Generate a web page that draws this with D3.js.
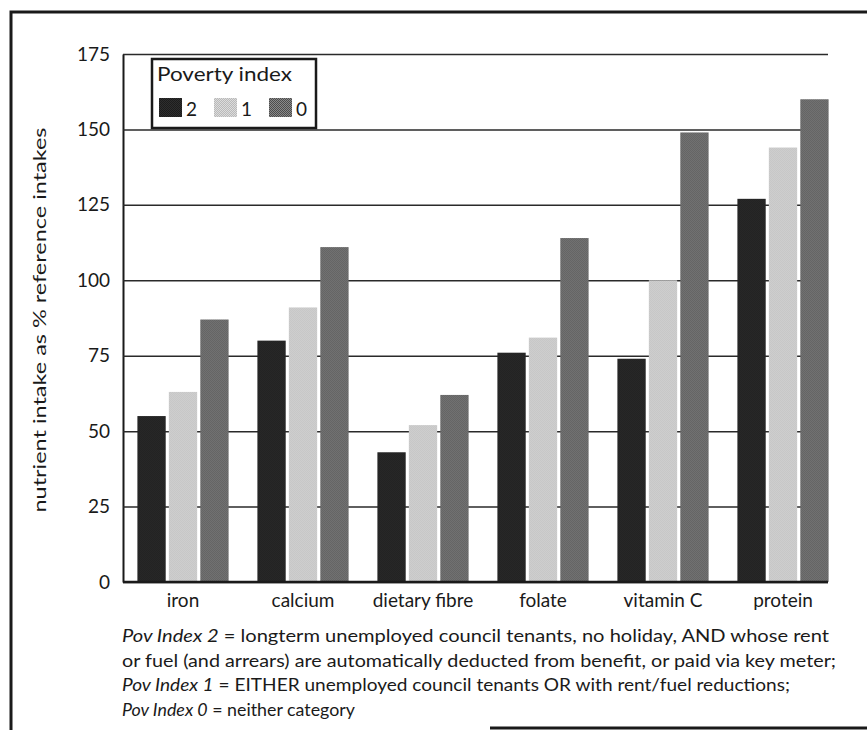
<!DOCTYPE html>
<html>
<head>
<meta charset="utf-8">
<script src="https://cdn.jsdelivr.net/npm/d3@7"></script>
<style>
  html, body { margin: 0; padding: 0; background: #ffffff; }
  svg { display: block; }
  text { font-family: Lato, "Open Sans", "DejaVu Sans", sans-serif; fill: #1a1a1a; }
</style>
</head>
<body>
<svg id="chart" width="867" height="730"></svg>
<script>
// Nutrient intake by poverty index
const categories = ["iron", "calcium", "dietary fibre", "folate", "vitamin C", "protein"];
const seriesKeys = ["2", "1", "0"];
const pov2 = [55, 80, 43, 76, 74, 127];
const pov1 = [63, 91, 52, 81, 100, 144];
const pov0 = [87, 111, 62, 114, 149, 160];
const yTicks = [0, 25, 50, 75, 100, 125, 150, 175];
const yTitle = "nutrient intake as % reference intakes";
const legendTitle = "Poverty index";
const notes = [
  ["Pov Index 2", " = longterm unemployed council tenants, no holiday, AND whose rent"],
  ["", "or fuel (and arrears) are automatically deducted from benefit, or paid via key meter;"],
  ["Pov Index 1", " = EITHER unemployed council tenants OR with rent/fuel reductions;"],
  ["Pov Index 0", " = neither category"]
];

const seriesValues = { "2": pov2, "1": pov1, "0": pov0 };
const rows = categories.map((c, i) => ({
  category: c,
  values: seriesKeys.map(k => ({ key: k, value: seriesValues[k][i] }))
}));

const svg = d3.select("#chart");

// halftone-style fills for the three series
const defs = svg.append("defs");
const fills = {
  "2": ["#1c1c1c", "#2e2e2e"],
  "1": ["#b9b9b9", "#dcdcdc"],
  "0": ["#4c4c4c", "#8a8a8a"]
};
seriesKeys.forEach(k => {
  const p = defs.append("pattern")
    .attr("id", "fill" + k)
    .attr("width", 2).attr("height", 2)
    .attr("patternUnits", "userSpaceOnUse");
  p.append("rect").attr("width", 2).attr("height", 2).attr("fill", fills[k][0]);
  p.append("rect").attr("width", 1).attr("height", 1).attr("fill", fills[k][1]);
  p.append("rect").attr("x", 1).attr("y", 1).attr("width", 1).attr("height", 1).attr("fill", fills[k][1]);
});

// outer frame: top and left rules, with the lower rule on the right-hand part
svg.append("path")
  .attr("d", "M880,12 H11 V740 M490,728 H880")
  .attr("fill", "none")
  .attr("stroke", "#1a1a1a")
  .attr("stroke-width", 3);

const plotLeft = 123, plotRight = 828;

const x = d3.scaleBand()
  .domain(categories)
  .range([plotLeft, plotLeft + 720])
  .paddingInner(0.24)
  .paddingOuter(0.12);

const xInner = d3.scaleBand()
  .domain(seriesKeys)
  .range([0, x.bandwidth()])
  .paddingInner(0.1);

const y = d3.scaleLinear()
  .domain([0, 175])
  .range([582, 54]);

// y axis with full-width gridlines
const yAxis = svg.append("g")
  .attr("transform", `translate(${plotLeft},0)`)
  .call(d3.axisLeft(y)
    .tickValues(yTicks)
    .tickSizeInner(-(plotRight - plotLeft))
    .tickSizeOuter(0)
    .tickPadding(13));
yAxis.select(".domain").attr("stroke", "#1a1a1a").attr("stroke-width", 2);
yAxis.selectAll(".tick line").attr("stroke", "#2a2a2a").attr("stroke-width", 1.5);
yAxis.selectAll(".tick text")
  .attr("font-size", 19)
  .attr("font-family", "Lato, sans-serif")
  .attr("fill", "#1a1a1a");

// bars
const groups = svg.append("g").selectAll("g")
  .data(rows)
  .join("g")
  .attr("transform", d => `translate(${x(d.category)},0)`);

groups.selectAll("rect")
  .data(d => d.values)
  .join("rect")
  .attr("x", d => xInner(d.key))
  .attr("width", xInner.bandwidth())
  .attr("y", d => y(d.value))
  .attr("height", d => y(0) - y(d.value))
  .attr("fill", d => `url(#fill${d.key})`);

// x axis baseline and category labels
const xAxis = svg.append("g")
  .attr("transform", `translate(0,${y(0)})`)
  .call(d3.axisBottom(x).tickSize(0).tickPadding(12));
xAxis.select(".domain").remove();
xAxis.selectAll(".tick text")
  .attr("font-size", 19)
  .attr("font-family", "Lato, sans-serif")
  .attr("fill", "#1a1a1a");
svg.append("line")
  .attr("x1", plotLeft).attr("x2", plotRight)
  .attr("y1", y(0)).attr("y2", y(0))
  .attr("stroke", "#1a1a1a")
  .attr("stroke-width", 2.5);

// y axis title
svg.append("text")
  .attr("transform", `translate(46,${(y(0) + y(175)) / 2 + 2}) rotate(-90)`)
  .attr("text-anchor", "middle")
  .attr("font-size", 18)
  .attr("textLength", 385)
  .attr("lengthAdjust", "spacingAndGlyphs")
  .text(yTitle);

// legend
const legend = svg.append("g");
legend.append("rect")
  .attr("x", 152).attr("y", 59)
  .attr("width", 164).attr("height", 69)
  .attr("fill", "#ffffff")
  .attr("stroke", "#1a1a1a")
  .attr("stroke-width", 2.5);
legend.append("text")
  .attr("x", 157).attr("y", 81)
  .attr("font-size", 19)
  .attr("textLength", 135)
  .attr("lengthAdjust", "spacingAndGlyphs")
  .text(legendTitle);
const legendX = d3.scalePoint().domain(seriesKeys).range([159, 269]);
const items = legend.selectAll("g.item")
  .data(seriesKeys)
  .join("g")
  .attr("class", "item")
  .attr("transform", k => `translate(${legendX(k)},98)`);
items.append("rect")
  .attr("width", 23).attr("height", 19)
  .attr("fill", k => `url(#fill${k})`);
items.append("text")
  .attr("x", 27).attr("y", 18)
  .attr("font-size", 19)
  .text(k => k);

// footnotes
const noteText = svg.append("g");
const noteWidths = [707, 714, 668, 233];
notes.forEach((n, i) => {
  const t = noteText.append("text")
    .attr("x", 122)
    .attr("y", 642 + i * 24.5)
    .attr("font-size", 16.5)
    .attr("textLength", noteWidths[i])
    .attr("lengthAdjust", "spacingAndGlyphs");
  if (n[0]) t.append("tspan").attr("font-style", "italic").text(n[0]);
  t.append("tspan").text(n[1]);
});
</script>
</body>
</html>
